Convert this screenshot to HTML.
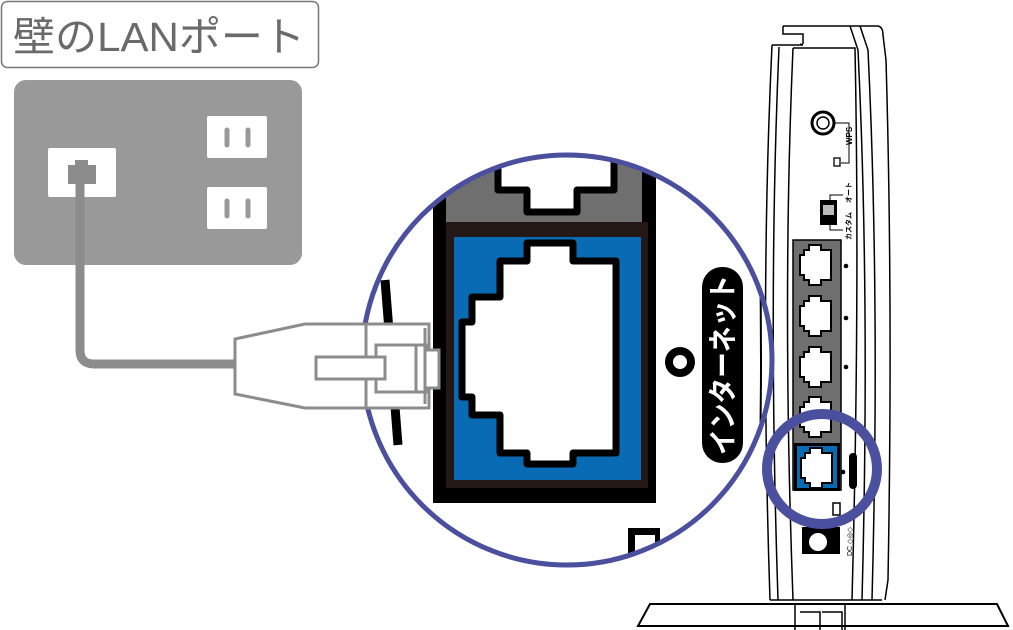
<!DOCTYPE html>
<html><head><meta charset="utf-8"><style>
html,body{margin:0;padding:0;background:#fff;}
svg{display:block;}
</style></head><body>
<svg width="1013" height="630" viewBox="0 0 1013 630" xmlns="http://www.w3.org/2000/svg">
<defs>
<clipPath id="cc"><circle cx="567" cy="360" r="205"/></clipPath>
<g id="port">
<path d="M10,0 H22 V5 H32 V35 H22 V40 H10 V35 H5 V30 H1 V10 H5 V5 H10 Z" fill="#fff" stroke="#000" stroke-width="2"/>
</g>
</defs>

<!-- label -->
<rect x="1.5" y="1.5" width="317" height="66" rx="6" fill="#fff" stroke="#777" stroke-width="1.5"/>
<text x="13" y="51" font-family="'Liberation Sans','Noto Sans CJK JP',sans-serif" font-size="41" fill="#6a6a6a" textLength="292" lengthAdjust="spacingAndGlyphs">壁のLANポート</text>

<!-- wall plate -->
<rect x="14" y="80" width="288" height="185" rx="12" fill="#999"/>
<rect x="48" y="148" width="68" height="49" rx="2" fill="#fff"/>
<path d="M68,165 H75 V160 H88 V165 H96 V184 H68 Z" fill="#8c8c8c"/>
<rect x="207" y="116" width="60" height="42" rx="2" fill="#fff"/>
<rect x="207" y="187" width="60" height="42" rx="2" fill="#fff"/>
<g stroke="#999" stroke-width="5" stroke-linecap="round">
<line x1="227" y1="130" x2="227" y2="145"/><line x1="248" y1="130" x2="248" y2="145"/>
<line x1="227" y1="201" x2="227" y2="216"/><line x1="248" y1="201" x2="248" y2="216"/>
</g>
<!-- cable -->
<path d="M80,178 V350 Q80,364 94,364 H236" fill="none" stroke="#8c8c8c" stroke-width="9"/>

<!-- router -->
<g fill="none" stroke="#000" stroke-width="1.5">
<path d="M783,26 H878 Q883,27 883,35 L886,60 Q893,300 888,580 L885,600"/>
<path d="M783,26 V34 H803 V44"/>
<path d="M772,45 H803 L800,44"/>
<path d="M772,45 Q760,300 770,600"/>
<path d="M779,47 Q768,300 778,600"/>
<path d="M793,48 H855 Q860,300 852,600"/>
<path d="M793,48 Q782,300 793,600"/>
<path d="M850,26 L858,50 Q870,300 862,600"/>
<path d="M860,26 L868,50 Q880,300 872,600"/>
<path d="M770,600 H882"/>
</g>
<circle cx="823" cy="123" r="11" fill="#fff" stroke="#000" stroke-width="3"/>
<circle cx="823" cy="123" r="6" fill="#fff" stroke="#000" stroke-width="1.5"/>
<path d="M834,123 H849 V163 H841" fill="none" stroke="#000" stroke-width="1"/>
<rect x="834" y="158" width="6" height="8" fill="#fff" stroke="#000" stroke-width="1.3"/>
<text transform="translate(852,145) rotate(-90)" font-family="'Liberation Sans',sans-serif" font-size="8" font-weight="bold">WPS</text>
<rect x="820" y="200" width="17" height="25" fill="#000"/>
<rect x="823" y="205" width="11" height="10" fill="#bbb"/>
<path d="M830,200 V195 H843 M830,225 V230 H843" fill="none" stroke="#000" stroke-width="1"/>
<text transform="translate(851,203) rotate(-90)" font-family="'Liberation Sans','Noto Sans CJK JP',sans-serif" font-size="7" font-weight="bold">オート</text>
<text transform="translate(851,240) rotate(-90)" font-family="'Liberation Sans','Noto Sans CJK JP',sans-serif" font-size="7" font-weight="bold">カスタム</text>
<rect x="793" y="240" width="48" height="250" fill="#6f6f6f" stroke="#000" stroke-width="1.5"/>
<use href="#port" x="799" y="245"/>
<use href="#port" x="799" y="296"/>
<use href="#port" x="799" y="347"/>
<use href="#port" x="799" y="397"/>
<rect x="794" y="443" width="46" height="48" fill="#000"/>
<rect x="797" y="446" width="40" height="42" fill="#0a6bb5"/>
<use href="#port" x="800" y="448"/>
<g fill="#000"><circle cx="846" cy="266" r="2.3"/><circle cx="846" cy="318" r="2.3"/><circle cx="846" cy="367" r="2.3"/><circle cx="843" cy="472" r="2.3"/></g>
<rect x="849" y="453" width="8" height="36" rx="4" fill="#000"/>
<rect x="833" y="503" width="7" height="12" fill="#fff" stroke="#000" stroke-width="1.5"/>
<rect x="802" y="527" width="38" height="27" fill="#000"/>
<circle cx="818" cy="542" r="10" fill="#fff" stroke="#000" stroke-width="2"/>
<text transform="translate(852,556) rotate(-90)" font-family="'Liberation Sans',sans-serif" font-size="7">DC ◇◎◇</text>
<!-- base -->
<path d="M650,604 H997 L1008,626 H638 Z" fill="#fff" stroke="#000" stroke-width="2"/>
<path d="M795,604 V630 M845,604 V630 M800,612 H820 V630 M822,612 H842 V630" fill="none" stroke="#000" stroke-width="1.5"/>
<circle cx="822" cy="469" r="55" fill="none" stroke="#4a4f9e" stroke-width="10"/>

<!-- magnified circle -->
<circle cx="567" cy="360" r="205" fill="#fff"/>
<g clip-path="url(#cc)">
<path d="M385,280 L398,445" stroke="#000" stroke-width="9"/>
<path d="M757,150 Q765,360 757,570" fill="none" stroke="#000" stroke-width="2"/>
<rect x="433" y="150" width="223" height="353" fill="#000"/>
<rect x="446" y="150" width="196" height="72" fill="#6f6f6f"/>
<rect x="446" y="222" width="202" height="266" fill="#231815"/>
<rect x="454" y="237" width="187" height="243" fill="#0a6bb5"/>
<path d="M498,150 V190 H527 V212 H577 V190 H614 V150" fill="#fff" stroke="#000" stroke-width="7" stroke-linejoin="round"/>
<path d="M527,243 H573 V261 H616 V453 H573 V464 H527 V453 H500 V415 H472 V397 H462 V322 H472 V297 H500 V261 H527 Z" fill="#fff" stroke="#000" stroke-width="7" stroke-linejoin="round"/>
<circle cx="680" cy="362" r="11" fill="#fff" stroke="#000" stroke-width="8"/>
<rect x="702" y="267" width="41" height="196" rx="20" fill="#000"/>
<text transform="translate(733,455) rotate(-90)" font-family="'Liberation Sans','Noto Sans CJK JP',sans-serif" font-size="29" font-weight="bold" fill="#fff" textLength="180" lengthAdjust="spacingAndGlyphs">インターネット</text>
<rect x="628" y="528" width="32" height="40" fill="#000"/>
<rect x="635" y="535" width="20" height="30" fill="#fff"/>
</g>
<circle cx="567" cy="360" r="205" fill="none" stroke="#4a4f9e" stroke-width="5"/>

<!-- connector -->
<g fill="#fff" stroke="#8c8c8c" stroke-width="3">
<path d="M235,339 L305,324 H429 V408 H305 L235,394 Z"/>
<line x1="366" y1="324" x2="366" y2="408"/>
<path d="M376,345 H427 V350 H439 V388 H427 V392 H376 Z"/>
<line x1="416" y1="345" x2="416" y2="392"/>
<rect x="316" y="357" width="69" height="22"/>
<line x1="425" y1="328" x2="425" y2="404"/>
</g>
</svg>
</body></html>
